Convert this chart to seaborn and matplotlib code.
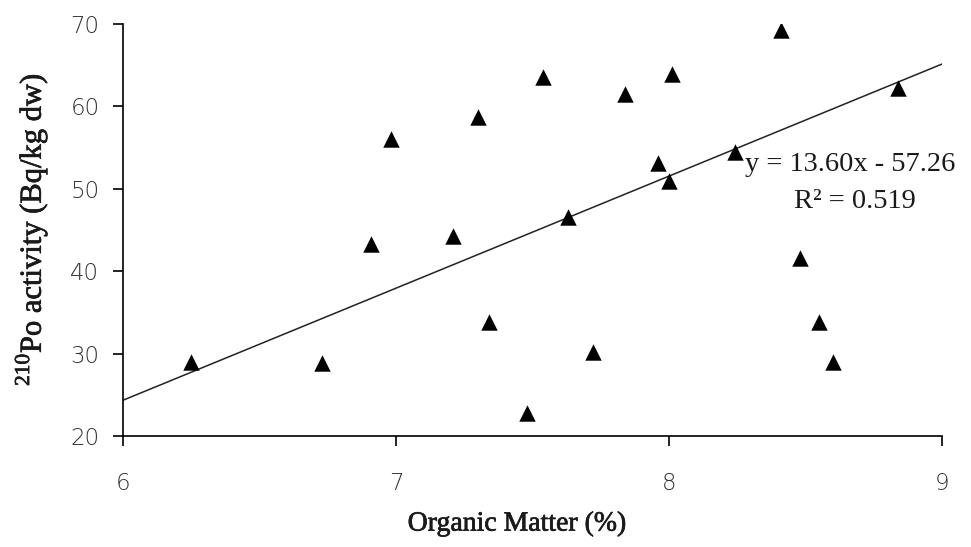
import matplotlib
matplotlib.use("Agg")
import matplotlib.pyplot as plt
import matplotlib.patheffects as pe
import seaborn as sns
import numpy as np
import pandas as pd

organic_matter = [6.25, 6.73, 6.91, 6.98, 7.21, 7.30, 7.34, 7.48, 7.54, 7.63, 7.72,
                  7.84, 7.96, 8.00, 8.01, 8.24, 8.41, 8.48, 8.55, 8.60, 8.84]
po_activity = [29.0, 28.9, 43.3, 56.1, 44.3, 58.7, 33.8, 22.8, 63.6, 46.6, 30.2,
               61.5, 53.1, 50.9, 63.9, 54.5, 69.3, 41.6, 33.8, 29.0, 62.2]
slope = 13.60
intercept = -57.26
r_squared = 0.519
x_ticks = [6, 7, 8, 9]
y_ticks = [20, 30, 40, 50, 60, 70]

sns.set_theme(style="white")
plt.rcParams["font.family"] = ["DejaVu Sans"]
plt.rcParams["mathtext.fontset"] = "custom"
plt.rcParams["mathtext.rm"] = "Liberation Serif"

df = pd.DataFrame({"om": organic_matter, "po": po_activity})

fig = plt.figure(figsize=(9.71, 5.47), dpi=100)
ax = fig.add_axes([123 / 971, 1 - 436 / 547, (942 - 123) / 971, (436 - 24) / 547])

xl = np.array([x_ticks[0], x_ticks[-1]], dtype=float)
line_df = pd.DataFrame({"x": xl, "y": slope * xl + intercept})
sns.lineplot(data=line_df, x="x", y="y", ax=ax, color="#222222", linewidth=1.1)
sns.scatterplot(data=df, x="om", y="po", ax=ax, marker="^", s=140,
                color="black", edgecolor="black", linewidth=0, zorder=5)

ax.set_xlim(x_ticks[0], x_ticks[-1])
ax.set_ylim(y_ticks[0], y_ticks[-1])
ax.set_xticks(x_ticks)
ax.set_yticks(y_ticks)

for s in ["top", "right"]:
    ax.spines[s].set_visible(False)
for s in ["left", "bottom"]:
    ax.spines[s].set_color("black")
    ax.spines[s].set_linewidth(1.2)

ax.tick_params(axis="both", which="major", bottom=True, left=True, direction="out",
               length=7, width=1.2, color="black", labelsize=16.5, labelcolor="#333333")
ax.tick_params(axis="x", pad=19)
ax.tick_params(axis="y", pad=10)
for lab in ax.get_xticklabels() + ax.get_yticklabels():
    lab.set_fontweight("light")

stroke = [pe.withStroke(linewidth=0.5, foreground="#1a1a1a")]
ax.set_xlabel("Organic Matter (%)", fontfamily="Liberation Serif", fontsize=20,
              color="#1a1a1a", path_effects=stroke, va="center")
ax.xaxis.set_label_coords((517 - 123) / 819, (436 - 524) / 412)
ax.set_ylabel(r"$^{\mathrm{210}}$Po activity (Bq/kg dw)", fontfamily="Liberation Serif",
              fontsize=22, color="#1a1a1a", path_effects=stroke, va="center")
ax.yaxis.set_label_coords((31 - 123) / 819, 0.5)

ax.text(8.28, 53.0, f"y = {slope:.2f}x - {abs(intercept):.2f}", fontfamily="Liberation Serif",
        fontsize=20.5, color="#1a1a1a", ha="left", va="center")
ax.text(8.68, 48.5, f"R² = {r_squared:.3f}", fontfamily="Liberation Serif",
        fontsize=20.5, color="#1a1a1a", ha="center", va="center")

fig.savefig("out.png", dpi=100)
